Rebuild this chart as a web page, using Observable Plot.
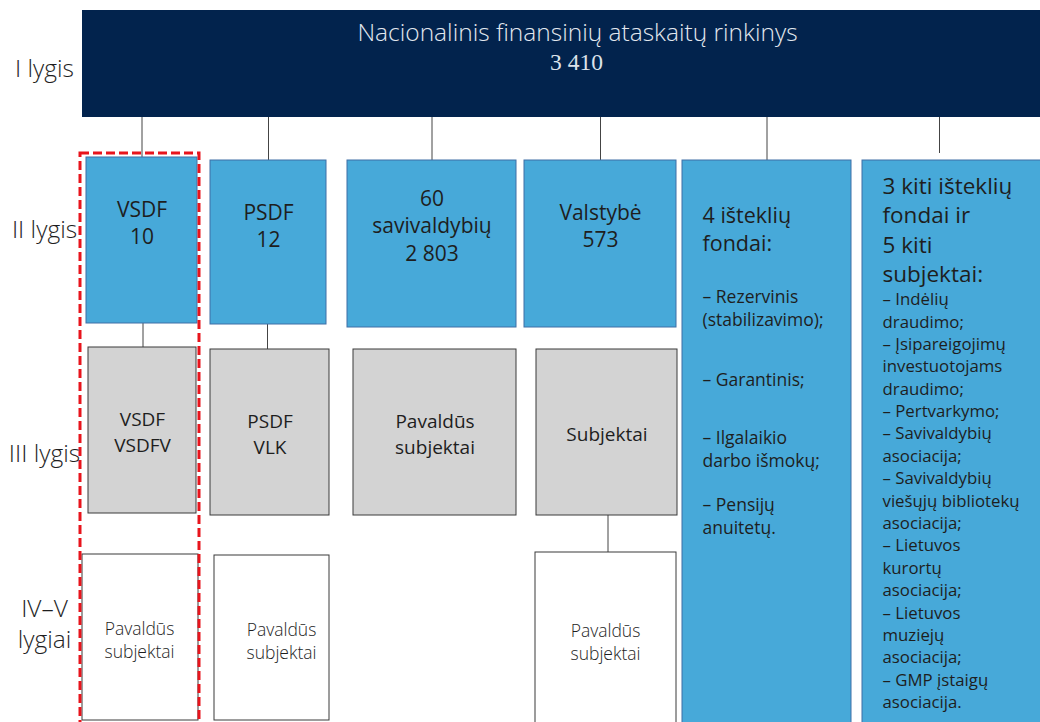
<!DOCTYPE html>
<html><head><meta charset="utf-8">
<script src="https://cdn.jsdelivr.net/npm/d3@7"></script>
<script src="https://cdn.jsdelivr.net/npm/@observablehq/plot@0.6"></script>
<style>body{margin:0;background:#fff}#chart svg{display:block}</style>
</head><body><div id="chart"></div>
<script>
// ---- content ----
const headerTitle = "Nacionalinis finansinių ataskaitų rinkinys";
const headerTotal = "3 410";
const levelLabels = ["I lygis", "II lygis", "III lygis", "IV–V\nlygiai"];
const level2Names = ["VSDF", "PSDF", "60\nsavivaldybių", "Valstybė"];
const level2Counts = ["10", "12", "2 803", "573"];
const level3Names = ["VSDF\nVSDFV", "PSDF\nVLK", "Pavaldūs\nsubjektai", "Subjektai"];
const level4Names = ["Pavaldūs\nsubjektai", "Pavaldūs\nsubjektai", "Pavaldūs\nsubjektai"];
const fundsHeading = "4 išteklių\nfondai:";
const fundsItems = ["– Rezervinis\n(stabilizavimo);", "– Garantinis;", "– Ilgalaikio\ndarbo išmokų;", "– Pensijų\nanuitetų."];
const otherHeading = "3 kiti išteklių\nfondai ir\n5 kiti\nsubjektai:";
const otherItems = ["– Indėlių", "draudimo;", "– Įsipareigojimų", "investuotojams", "draudimo;", "– Pertvarkymo;",
  "– Savivaldybių", "asociacija;", "– Savivaldybių", "viešųjų bibliotekų", "asociacija;", "– Lietuvos", "kurortų",
  "asociacija;", "– Lietuvos", "muziejų", "asociacija;", "– GMP įstaigų", "asociacija."];

// ---- layout (diagram frame, px) ----
const rootBox = {x1: 82, x2: 1040, y1: 10, y2: 117};
const level2Boxes = [[86,197,157,323],[210,326,160,324],[347,516,160,327],[524,676,160,327]];
const fundsBox = [682, 851, 160, 725];
const otherBox = [862, 1042, 160, 725];
const level3Boxes = [[88,196,347,513],[210,329,349,515],[353,516,349,515],[536,677,349,515]];
const level4Boxes = [[82,198,554,720],[214,329,555,720],[535,676,552,725]];
const level4TextX = [139, 281, 605];
const levelLabelY = [67, 228, 452, 622];
const fundsItemY = [307, 378, 448, 515];
const highlight = [80, 199, 153, 725];

const box = (b, extra = {}) => ({x1: b[0], x2: b[1], y1: b[2], y2: b[3], ...extra});
const L2 = level2Boxes.map((b, i) => box(b, {name: level2Names[i], count: level2Counts[i]}));
const L2all = [...L2, box(fundsBox), box(otherBox)];
const L3 = level3Boxes.map((b, i) => box(b, {name: level3Names[i]}));
const L4 = level4Boxes.map((b, i) => box(b, {name: level4Names[i], tx: level4TextX[i]}));
const mid = d => (d.x1 + d.x2) / 2;

// links: parent -> child
const links = [
  ...L2all.map(c => ({x: mid(c), y1: rootBox.y2, y2: c.y1})),
  {x: mid(L2[0]) + 1, y1: L2[0].y2, y2: L3[0].y1},
  {x: mid(L2[1]) - 1, y1: L2[1].y2, y2: L3[1].y1},
  {x: mid(L3[3]) + 1, y1: L3[3].y2, y2: L4[2].y1}
];
links[5].x = 939; links[5].y2 = 153;

const FONT = "'Open Sans', 'Noto Sans', sans-serif";
const TXT = "#1e1e1e";

const plot = Plot.plot({
  width: 1040, height: 722, margin: 0,
  style: {background: "#fff"},
  x: {domain: [0, 1040], range: [0, 1040], axis: null},
  y: {domain: [0, 722], range: [0, 722], axis: null},
  marks: [
    Plot.ruleX(links, {x: "x", y1: "y1", y2: "y2", stroke: "#444", strokeWidth: 1}),
    Plot.rect([rootBox], {x1: "x1", x2: "x2", y1: "y1", y2: "y2", fill: "#02234d"}),
    Plot.rect(L2all, {x1: "x1", x2: "x2", y1: "y1", y2: "y2", fill: "#47a9d9", stroke: "#3f6fa6", strokeWidth: 1}),
    Plot.rect(L3, {x1: "x1", x2: "x2", y1: "y1", y2: "y2", fill: "#d3d3d3", stroke: "#3a3a3a", strokeWidth: 1}),
    Plot.rect(L4, {x1: "x1", x2: "x2", y1: "y1", y2: "y2", fill: "#fff", stroke: "#3a3a3a", strokeWidth: 1}),
    Plot.rect([box(highlight)], {x1: "x1", x2: "x2", y1: "y1", y2: "y2", fill: "none", stroke: "#e8141c", strokeWidth: 3, strokeDasharray: "9,4"}),
    // header
    Plot.text([headerTitle], {x: () => 577, y: () => 33, text: d => d, fill: "#e3e8ef", fontSize: 24.5, fontWeight: 300, fontFamily: FONT}),
    Plot.text([headerTotal], {x: () => 576, y: () => 62, text: d => d, fill: "#dde3eb", fontSize: 23.5, fontWeight: 400, fontFamily: "'Liberation Serif', 'DejaVu Serif', serif"}),
    // level labels
    Plot.text(levelLabels, {x: () => 44, y: (d, i) => levelLabelY[i], text: d => d, fill: TXT, fontSize: 24.5, fontWeight: 300, lineHeight: 1.25, fontFamily: FONT}),
    // level II
    Plot.text(L2, {x: mid, y: d => d.y1 + 64, text: d => d.name + "\n" + d.count, fill: TXT, fontSize: 21, lineHeight: 1.32, fontFamily: FONT}),
    Plot.text([fundsHeading], {x: () => fundsBox[0] + 20, y: () => 228, text: d => d, textAnchor: "start", fill: TXT, fontSize: 21.5, lineHeight: 1.3, fontFamily: FONT}),
    Plot.text(fundsItems, {x: () => fundsBox[0] + 20, y: (d, i) => fundsItemY[i], text: d => d, textAnchor: "start", fill: TXT, fontSize: 17.5, lineHeight: 1.3, fontFamily: FONT}),
    Plot.text([otherHeading], {x: () => otherBox[0] + 20, y: () => 228, text: d => d, textAnchor: "start", fill: TXT, fontSize: 22.5, lineHeight: 1.3, fontFamily: FONT}),
    Plot.text([otherItems.join("\n")], {x: () => otherBox[0] + 20, y: () => 499, text: d => d, textAnchor: "start", fill: TXT, fontSize: 16.8, lineHeight: 1.333, fontFamily: FONT}),
    // level III
    Plot.text(L3, {x: mid, y: d => (d.y1 + d.y2) / 2, text: "name", fill: TXT, fontSize: 19, lineHeight: 1.35, fontFamily: FONT}),
    // level IV
    Plot.text(L4, {x: "tx", y: d => (d.y1 + d.y2) / 2 + 2, text: "name", fill: TXT, fontSize: 17.5, fontWeight: 300, lineHeight: 1.3, fontFamily: FONT})
  ]
});
document.getElementById("chart").append(plot);
</script></body></html>
